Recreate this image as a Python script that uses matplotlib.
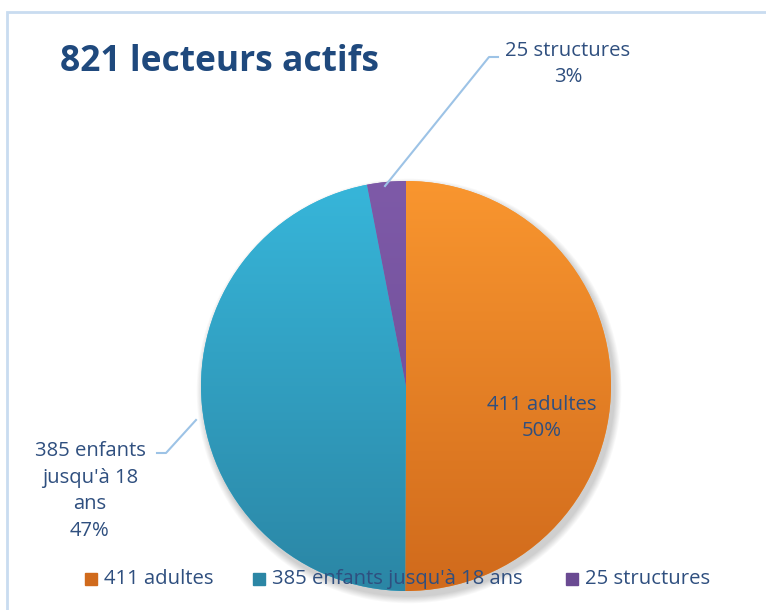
import matplotlib.pyplot as plt
import matplotlib.colors as mcolors
from matplotlib.patches import Rectangle, Circle
import numpy as np

plt.rcParams['font.family'] = ['Open Sans', 'DejaVu Sans']

title = "821 lecteurs actifs"
labels = ["411 adultes", "385 enfants jusqu'à 18 ans", "25 structures"]
values = [411, 385, 25]
pct_text = ["50%", "47%", "3%"]
top_colors = ["#F9962F", "#37B6DA", "#7E5AA8"]
bottom_colors = ["#D06A1C", "#2B86A5", "#6A4A92"]
text_color = "#2F4F7F"

W, H = 766, 610
fig = plt.figure(figsize=(W / 100, H / 100), dpi=100)
ax = fig.add_axes([0, 0, 1, 1])

# chart border (only top and left visible)
ax.add_patch(Rectangle((7, -20), W + 40, H - 12 + 20, fill=False,
                       edgecolor="#C9DCF0", lw=2))

cx, cy, r = 406, H - 386, 205

# soft shadow, shifted down-right
for k in range(8):
    ax.add_patch(Circle((cx + 3, cy - 5), r + 1 + k * 0.9, color="#000000",
                        alpha=0.022, lw=0, zorder=1))

wedges, _ = ax.pie(values, center=(cx, cy), radius=r, startangle=90,
                   counterclock=False, colors=top_colors,
                   wedgeprops=dict(linewidth=0, zorder=2), frame=True)
ax.set_xlim(0, W)
ax.set_ylim(0, H)
ax.set_aspect('equal')
ax.axis('off')

# vertical gradients clipped to each wedge
grad = np.linspace(0, 1, 256).reshape(-1, 1)
for w, c1, c2 in zip(wedges, top_colors, bottom_colors):
    cmap = mcolors.LinearSegmentedColormap.from_list("g", [c2, c1])
    im = ax.imshow(grad, cmap=cmap, extent=(cx - r, cx + r, cy - r, cy + r),
                   origin='lower', aspect='auto', zorder=3)
    im.set_clip_path(w)

fs = 14.6
# data labels
ax.text(542, H - 418, labels[0] + "\n" + pct_text[0], ha='center', va='center',
        fontsize=fs, color=text_color, linespacing=1.45, zorder=5)
ax.text(90, H - 491, "385 enfants\njusqu'à 18\nans\n" + pct_text[1],
        ha='center', va='center', fontsize=fs, color=text_color,
        linespacing=1.45, zorder=5)
ax.text(568, H - 64, labels[2] + "\n" + pct_text[2], ha='center', va='center',
        fontsize=fs, color=text_color, linespacing=1.45, zorder=5)

# leader lines
lc = "#9DC3E6"
ax.plot([157, 166, 196], [H - 453, H - 453, H - 420], color=lc, lw=1.5, zorder=4)
ax.plot([498, 489, 385], [H - 57, H - 57, H - 186], color=lc, lw=1.5, zorder=4)

# title
ax.text(60, H - 62, title, ha='left', va='center', fontsize=25.5,
        fontweight='bold', color="#1F497D", zorder=5)

# legend
leg_x = [85, 253, 566]
for x0, lab, c1, c2 in zip(leg_x, labels, top_colors, bottom_colors):
    ax.add_patch(Rectangle((x0, H - 585), 12, 12, color=c2, zorder=6))
    ax.text(x0 + 19, H - 579, lab, ha='left', va='center', fontsize=fs,
            color=text_color, zorder=6)

fig.savefig("out.png", dpi=100)
